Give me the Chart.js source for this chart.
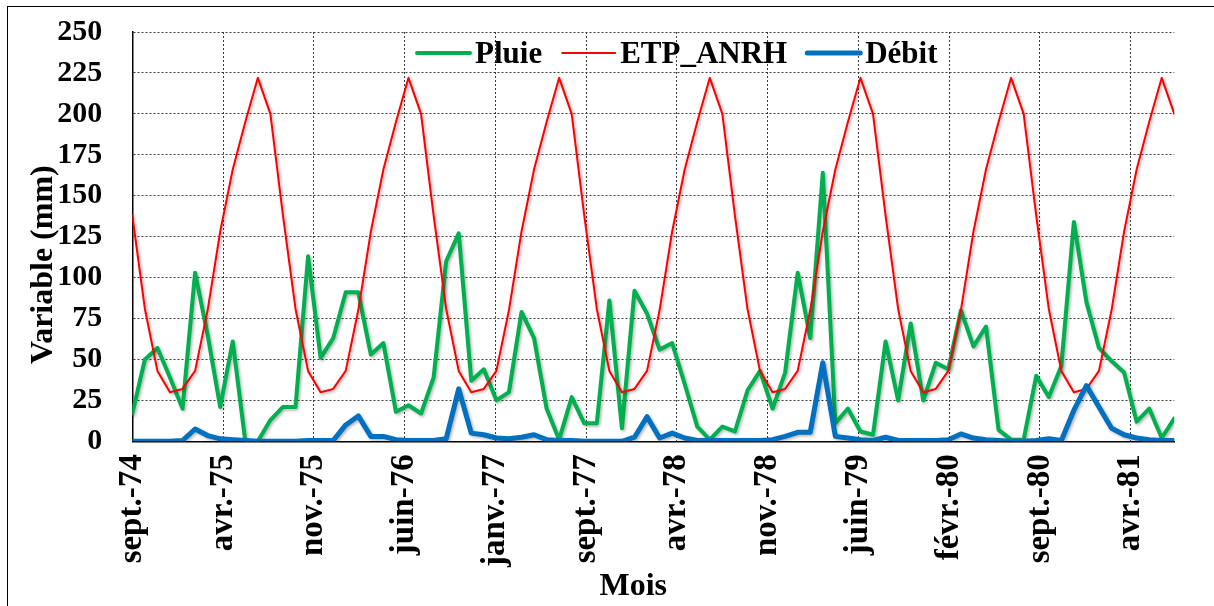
<!DOCTYPE html>
<html lang="fr">
<head>
<meta charset="utf-8">
<title>Pluie, ETP et débit mensuels (1974-1981)</title>
<script src="https://cdn.jsdelivr.net/npm/chart.js@4.4.1/dist/chart.umd.min.js"></script>
<style>
  html, body { margin: 0; padding: 0; background: #fff; }
  #wrap { position: relative; width: 1214px; height: 606px; overflow: hidden; background: #fff; }
  #c { position: absolute; left: 0; top: 0; }
  #frame { position: absolute; left: 7px; top: 6px; width: 1230px; height: 630px;
           border: 1.5px solid #000; box-sizing: border-box; pointer-events: none; }
</style>
</head>
<body>
<div id="wrap">
  <canvas id="c" width="1214" height="606"></canvas>
  <div id="frame"></div>
</div>
<script>
// Monthly series, September 1974 to August 1981 (84 months)
const monthNames = ['janv.', 'févr.', 'mars', 'avr.', 'mai', 'juin',
                    'juil.', 'août', 'sept.', 'oct.', 'nov.', 'déc.'];
const months = [];
for (let i = 0; i < 84; i++) {
  const m = (8 + i) % 12;
  const y = 74 + Math.floor((8 + i) / 12);
  months.push(monthNames[m] + '-' + y);
}

// Rainfall (mm)
const pluie = [
  17, 50, 57, 39, 20, 103, 65, 21, 61, 0, 0, 13,
  21, 21, 113, 51, 63, 91, 91, 53, 60, 18, 22, 17,
  39, 110, 127, 37, 44, 25, 30, 79, 63, 20, 1, 27,
  11, 11, 86, 8, 92, 78, 56, 60, 35, 9, 1, 9,
  6, 31, 43, 20, 42, 103, 63, 164, 11, 20, 6, 4,
  61, 25, 72, 25, 48, 44, 80, 58, 70, 7, 1, 1,
  40, 27, 46, 134, 85, 57, 49, 42, 12, 20, 2, 14
];

// Potential evapotranspiration, ANRH (mm)
const etpAnrh = [
  138, 81, 43, 30, 32, 43, 80, 128, 166, 195, 222, 200,
  138, 81, 43, 30, 32, 43, 80, 128, 166, 195, 222, 200,
  138, 81, 43, 30, 32, 43, 80, 128, 166, 195, 222, 200,
  138, 81, 43, 30, 32, 43, 80, 128, 166, 195, 222, 200,
  138, 81, 43, 30, 32, 43, 80, 128, 166, 195, 222, 200,
  138, 81, 43, 30, 32, 43, 80, 128, 166, 195, 222, 200,
  138, 81, 43, 30, 32, 43, 80, 128, 166, 195, 222, 200
];

// Discharge expressed as runoff depth (mm)
const debit = [
  0, 0, 0, 0, 0.5, 7.5, 3.5, 1.5, 1, 0.5, 0, 0,
  0, 0, 0.5, 0.5, 0.5, 10, 15.5, 3, 3, 1, 0.5, 0.5,
  0.5, 1.5, 32, 5, 4, 2, 1.5, 2.5, 4, 1, 0.5, 0.5,
  0, 0, 0, 0, 2.5, 15, 2, 5, 2, 0.5, 0.5, 0.5,
  0.5, 0.5, 0.5, 1, 3, 5.5, 5.5, 48, 3, 2, 1, 0.5,
  2.5, 0.5, 0.5, 0.5, 0.5, 1, 4.5, 2, 1, 0.5, 0, 0,
  0.5, 1.5, 0.5, 19, 34, 21, 8, 4, 2, 1, 0.5, 0.5
];

// Date-axis labels, one every 7.23 months
const tickLabels = ['sept.-74', 'avr.-75', 'nov.-75', 'juin-76', 'janv.-77', 'sept.-77',
                    'avr.-78', 'nov.-78', 'juin-79', 'févr.-80', 'sept.-80', 'avr.-81'];
const TICK_STEP = 7.23;

const FONT = "'Liberation Serif', 'Times New Roman', serif";
const toPoints = arr => arr.map((v, i) => ({ x: i, y: v }));

// Soft drop shadow under each series line
const lineShadow = {
  id: 'lineShadow',
  beforeDatasetDraw(chart) {
    const ctx = chart.ctx;
    ctx.save();
    ctx.shadowColor = 'rgba(0,0,0,0.30)';
    ctx.shadowBlur = 3;
    ctx.shadowOffsetX = 1.5;
    ctx.shadowOffsetY = 1.5;
  },
  afterDatasetDraw(chart) {
    chart.ctx.restore();
  }
};

// Legend drawn over the top of the plot area
const inlineLegend = {
  id: 'inlineLegend',
  afterDraw(chart, args, opts) {
    const ctx = chart.ctx;
    ctx.save();
    ctx.font = 'bold ' + opts.fontSize + 'px ' + FONT;
    ctx.textBaseline = 'alphabetic';
    ctx.textAlign = 'left';
    let x = opts.x;
    chart.data.datasets.forEach(ds => {
      ctx.strokeStyle = ds.borderColor;
      ctx.lineWidth = ds.borderWidth;
      ctx.lineCap = 'round';
      ctx.beginPath();
      ctx.moveTo(x, opts.lineY);
      ctx.lineTo(x + opts.sample, opts.lineY);
      ctx.stroke();
      x += opts.sample + opts.gap;
      ctx.fillStyle = '#000';
      ctx.fillText(ds.label, x, opts.textY);
      x += ctx.measureText(ds.label).width + opts.spacing;
    });
    ctx.restore();
  }
};

const gridStyle = { color: '#3a3a3a', lineWidth: 1, drawTicks: false };

new Chart(document.getElementById('c'), {
  type: 'line',
  data: {
    datasets: [
      { label: 'Pluie', data: toPoints(pluie), borderColor: '#00b050', borderWidth: 4, order: 2 },
      { label: 'ETP_ANRH', data: toPoints(etpAnrh), borderColor: '#ff0000', borderWidth: 2, order: 1 },
      { label: 'Débit', data: toPoints(debit), borderColor: '#0070c0', borderWidth: 5, order: 0 }
    ]
  },
  options: {
    responsive: false,
    animation: false,
    layout: { padding: { left: 12, right: 39.7, top: 32, bottom: 0 } },
    elements: {
      point: { radius: 0, hoverRadius: 0 },
      line: { tension: 0, borderJoinStyle: 'round', borderCapStyle: 'round' }
    },
    font: { family: FONT, weight: 'bold' },
    plugins: {
      legend: { display: false },
      tooltip: { enabled: false },
      inlineLegend: { x: 417, lineY: 53, textY: 63, sample: 53, gap: 5, spacing: 20, fontSize: 31 }
    },
    scales: {
      x: {
        type: 'linear',
        min: 0,
        max: pluie.length - 1,
        afterBuildTicks: scale => {
          scale.ticks = tickLabels.map((_, k) => ({ value: k * TICK_STEP }));
        },
        afterFit: scale => { scale.height = 164.7; },
        ticks: {
          autoSkip: false,
          maxRotation: 90,
          minRotation: 90,
          padding: 13,
          color: '#000',
          font: { family: FONT, size: 33, weight: 'bold' },
          callback: (value, index) => tickLabels[index]
        },
        grid: gridStyle,
        border: { display: true, color: '#000', width: 1.5, dash: [2, 2] },
        title: {
          display: true,
          text: 'Mois     ',
          color: '#000',
          font: { family: FONT, size: 32, weight: 'bold' },
          padding: { top: 0, bottom: 0 }
        }
      },
      y: {
        min: 0,
        max: 250,
        afterFit: scale => {
          scale.width = 120.3;
          // only half a label of overflow above and below the plot
          scale.paddingTop = 18;
          scale.paddingBottom = 18;
        },
        ticks: {
          stepSize: 25,
          padding: 30,
          color: '#000',
          font: { family: FONT, size: 30, weight: 'bold' }
        },
        grid: gridStyle,
        border: { display: true, color: '#000', width: 1.5, dash: [2, 2] },
        title: {
          display: true,
          text: 'Variable (mm)       ',
          color: '#000',
          font: { family: FONT, size: 32, weight: 'bold' },
          padding: { top: 13, bottom: 0 }
        }
      }
    }
  },
  plugins: [lineShadow, inlineLegend]
});
</script>
</body>
</html>
